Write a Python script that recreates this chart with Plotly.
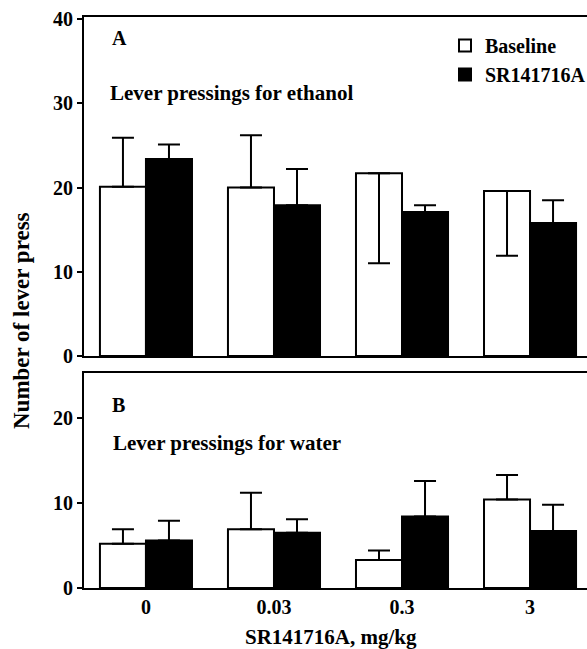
import plotly.graph_objects as go

doses = ["0", "0.03", "0.3", "3"]

# Panel A: lever pressings for ethanol
eth_base = [20.1, 20.0, 21.7, 19.6]
eth_base_err_up = [5.8, 6.2, 0.0, 0.0]
eth_base_err_down = [0.0, 0.0, 10.7, 7.7]
eth_sr = [23.4, 17.9, 17.1, 15.8]
eth_sr_err = [1.7, 4.3, 0.8, 2.7]

# Panel B: lever pressings for water
wat_base = [5.2, 6.9, 3.3, 10.4]
wat_base_err = [1.7, 4.3, 1.1, 2.9]
wat_sr = [5.6, 6.5, 8.4, 6.7]
wat_sr_err = [2.3, 1.6, 4.2, 3.1]

FONT = "Liberation Serif"
xpos = list(range(len(doses)))

def err(up, down=None):
    return dict(type="data", array=up, symmetric=False,
                arrayminus=down if down is not None else [0] * len(up),
                visible=True, color="black", thickness=2, width=11)

fig = go.Figure()
fig.add_trace(go.Bar(x=xpos, y=eth_base, name="Baseline", marker=dict(color="white", line=dict(color="black", width=2)),
                     error_y=err(eth_base_err_up, eth_base_err_down), xaxis="x", yaxis="y"))
fig.add_trace(go.Bar(x=xpos, y=eth_sr, name="SR141716A", marker=dict(color="black", line=dict(color="black", width=2)),
                     error_y=err(eth_sr_err), xaxis="x", yaxis="y"))
fig.add_trace(go.Bar(x=xpos, y=wat_base, name="Baseline", showlegend=False, marker=dict(color="white", line=dict(color="black", width=2)),
                     error_y=err(wat_base_err), xaxis="x2", yaxis="y2"))
fig.add_trace(go.Bar(x=xpos, y=wat_sr, name="SR141716A", showlegend=False, marker=dict(color="black", line=dict(color="black", width=2)),
                     error_y=err(wat_sr_err), xaxis="x2", yaxis="y2"))

W, H = 587, 649
ml, mr, mt, mb = 84, 0, 17, 61
ph = H - mt - mb
pw = W - ml - mr
def px2x(px): return (px - ml) / pw
def px2y(py): return (H - mb - py) / ph

xr = [-0.484, 3.445]
axfont = dict(family=FONT, size=20, color="black", weight="bold")
common_x = dict(range=xr, showgrid=False, zeroline=False, showline=True, linecolor="black", linewidth=2,
                mirror=True, tickmode="array", tickvals=xpos, ticktext=doses, tickfont=axfont, domain=[0, 1],
                automargin=False)
common_y = dict(showgrid=False, zeroline=False, showline=True, linecolor="black", linewidth=2, mirror=False,
                ticks="outside", ticklen=5, tickwidth=2, tickcolor="black", tickfont=axfont, automargin=False)

fig.update_layout(
    width=W, height=H,
    margin=dict(l=ml, r=mr, t=mt, b=mb, autoexpand=False),
    paper_bgcolor="white", plot_bgcolor="white",
    barmode="group", bargap=0.281, bargroupgap=0,
    font=dict(family=FONT, size=20, color="black"),
    xaxis=dict(common_x, anchor="y", showticklabels=False, ticks=""),
    yaxis=dict(common_y, range=[0, 40.25], tickvals=[0, 10, 20, 30, 40], domain=[px2y(356), 1], anchor="x"),
    xaxis2=dict(common_x, anchor="y2", ticks=""),
    yaxis2=dict(common_y, range=[0, 25.3], tickvals=[0, 10, 20], domain=[0, px2y(373)], anchor="x2"),
    showlegend=True,
    legend=dict(x=px2x(445), y=px2y(26), xanchor="left", yanchor="top", bgcolor="rgba(0,0,0,0)",
                font=dict(family=FONT, size=20, color="black", weight="bold"), tracegroupgap=0,
                itemwidth=30, traceorder="normal"),
)

ann = []
def note(text, px, py, size=20, **kw):
    ann.append(dict(text=text, x=px2x(px), y=px2y(py), xref="paper", yref="paper", showarrow=False,
                    xanchor=kw.pop("xanchor", "left"), yanchor="middle",
                    font=dict(family=FONT, size=size, color="black", weight="bold"), **kw))

note("A", 110, 38)
note("Lever pressings for ethanol", 108, 93, size=21)
note("B", 110, 405)
note("Lever pressings for water", 111, 443, size=21)
note("SR141716A, mg/kg", 331, 637, size=21, xanchor="center")
note("Number of lever press", 21, 321, size=23, xanchor="center", textangle=-90)
fig.update_layout(annotations=ann)

fig.write_html("out.html", config={"displayModeBar": False},
               post_script="document.body.style.margin='0';document.body.style.padding='0';document.body.style.overflow='hidden';")
